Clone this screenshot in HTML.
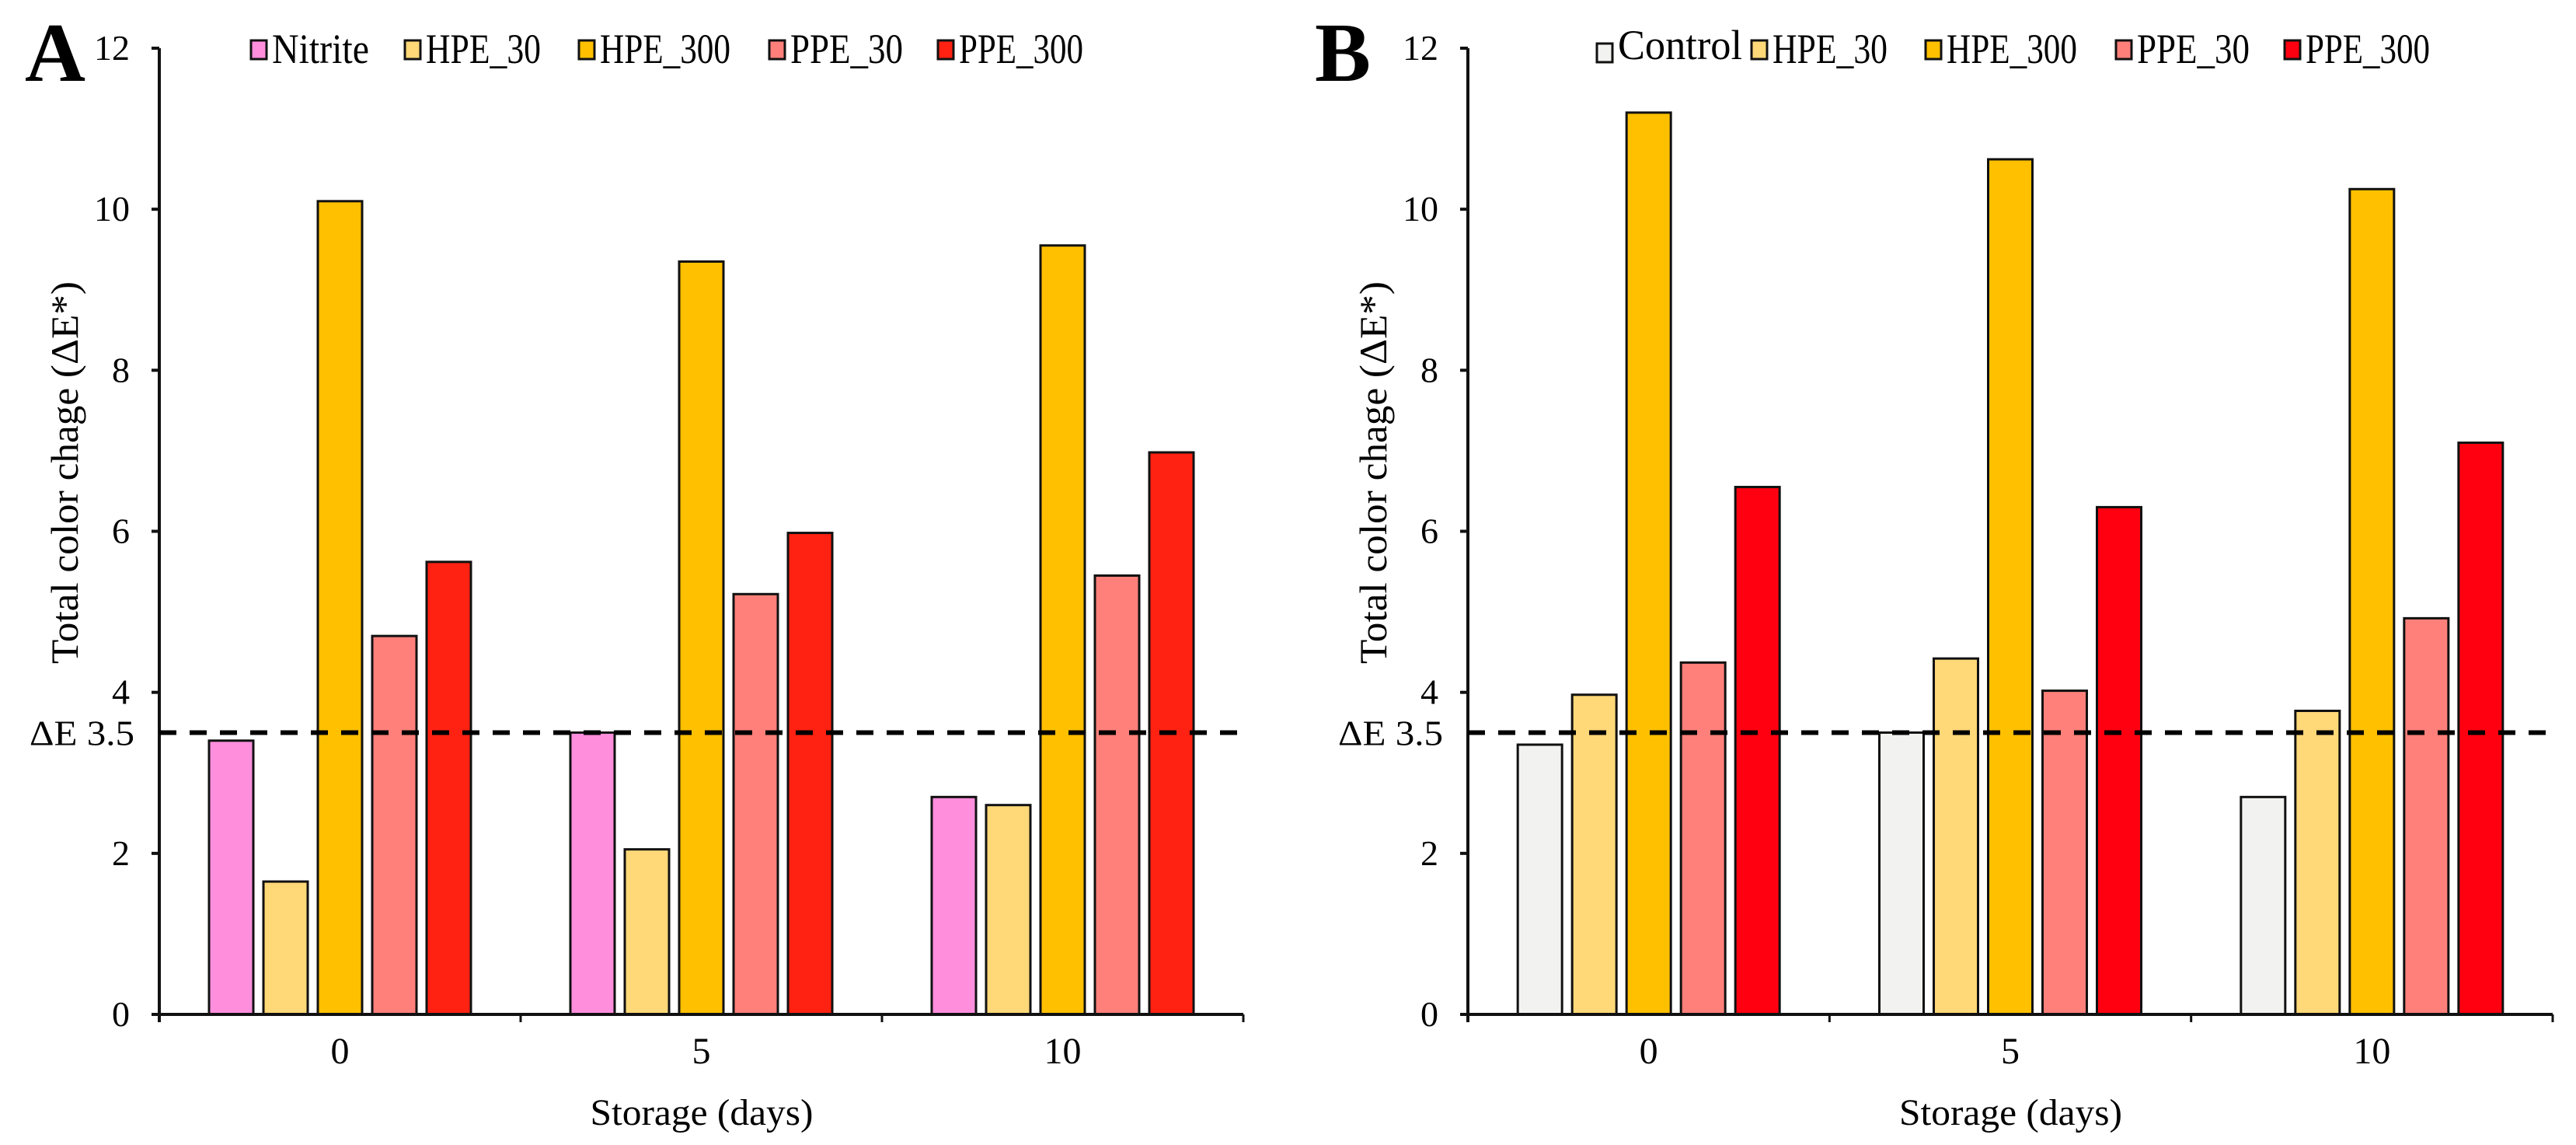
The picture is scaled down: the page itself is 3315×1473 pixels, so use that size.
<!DOCTYPE html>
<html><head><meta charset="utf-8"><style>
html,body{margin:0;padding:0;background:#fff;}
svg{display:block;font-family:"Liberation Serif",serif;}
</style></head><body>
<svg id="chart" width="3315" height="1473" viewBox="0 0 3315 1473" xmlns="http://www.w3.org/2000/svg"></svg>
<script>
const categories = ["0", "5", "10"];
const yTicks = [0, 2, 4, 6, 8, 10, 12];
const seriesNamesA = ["Nitrite", "HPE_30", "HPE_300", "PPE_30", "PPE_300"];
const seriesNamesB = ["Control", "HPE_30", "HPE_300", "PPE_30", "PPE_300"];
const nitriteA = [3.4, 3.5, 2.7];
const hpe30A = [1.65, 2.05, 2.6];
const hpe300A = [10.1, 9.35, 9.55];
const ppe30A = [4.7, 5.22, 5.45];
const ppe300A = [5.62, 5.98, 6.98];
const controlB = [3.35, 3.5, 2.7];
const hpe30B = [3.97, 4.42, 3.77];
const hpe300B = [11.2, 10.62, 10.25];
const ppe30B = [4.37, 4.02, 4.92];
const ppe300B = [6.55, 6.3, 7.1];
const threshold = 3.5;

const NS = "http://www.w3.org/2000/svg";
const svg = document.getElementById("chart");
function mk(tag, attrs, parent) {
  const e = document.createElementNS(NS, tag);
  for (const k in attrs) e.setAttribute(k, attrs[k]);
  (parent || svg).appendChild(e);
  return e;
}

function drawPanel(cfg) {
  const g = mk("g", {});
  
  
  const x0 = cfg.x0, x1 = cfg.x1, yBase = 1305, yTop = 62, yMax = 12;
  const yScale = v => yBase - v / yMax * (yBase - yTop);
  const catW = (x1 - x0) / categories.length;
  const barW = 57, step = 70;
  const groupW = step * 4 + barW;
  const xBar = (ci, si) => x0 + ci * catW + (catW - groupW) / 2 + si * step;

  const lt = mk("text", {x: cfg.letterX, y: 104, "font-size": 108, "font-weight": "bold"}, g);
  lt.textContent = cfg.letter;
  
  

  cfg.series.forEach((vals, si) => {
    vals.forEach((v, ci) => {
      const y = yScale(v);
      const r = mk("rect", {x: xBar(ci, si), y: y, width: barW, height: yBase - y, fill: cfg.colors[si], stroke: "#111", "stroke-width": 3}, g);
      
      
    });
  });

  const ya = mk("line", {x1: x0, y1: yTop, x2: x0, y2: yBase + 10, stroke: "#111", "stroke-width": 4}, g);
  
  
  yTicks.forEach(t => {
    const y = yScale(t);
    mk("line", {x1: x0 - 10, y1: y, x2: x0, y2: y, stroke: "#111", "stroke-width": 4}, g);
    const tx = mk("text", {x: x0 - 38, y: y + 15, "font-size": 46, "text-anchor": "end"}, g);
    tx.textContent = t;
    
    
  });
  const xa = mk("line", {x1: x0 - 10, y1: yBase, x2: x1, y2: yBase, stroke: "#111", "stroke-width": 4}, g);
  
  
  for (let i = 1; i <= categories.length; i++) {
    mk("line", {x1: x0 + i * catW, y1: yBase, x2: x0 + i * catW, y2: yBase + 10, stroke: "#111", "stroke-width": 3}, g);
  }
  categories.forEach((c, ci) => {
    const tx = mk("text", {x: x0 + (ci + 0.5) * catW, y: 1368, "font-size": 48, "text-anchor": "middle"}, g);
    tx.textContent = c;
    
    
  });
  const xt = mk("text", {x: x0 + 1.5 * catW - 143, y: 1447, "font-size": 48, textLength: 287, lengthAdjust: "spacingAndGlyphs"}, g);
  xt.textContent = "Storage (days)";
  
  
  const yt = mk("text", {x: -246, y: 0, "font-size": 50, textLength: 492, lengthAdjust: "spacingAndGlyphs", transform: "translate(" + (x0 - 105) + ",608) rotate(-90)"}, g);
  yt.textContent = "Total color chage (\u0394E*)";
  
  

  const ty = yScale(threshold);
  const dl = mk("line", {x1: x0, y1: ty, x2: x1 - 6, y2: ty, stroke: "#000", "stroke-width": 6, "stroke-dasharray": "22 17"}, g);
  
  
  const tl = mk("text", {x: x0 - 167, y: ty + 16, "font-size": 46, textLength: 135, lengthAdjust: "spacingAndGlyphs"}, g);
  tl.textContent = "\u0394E 3.5";
  
  

  cfg.names.forEach((n, si) => {
    const lx = cfg.legendX[si];
    const lg = mk("g", {}, g);
    
    
    mk("rect", {x: lx, y: 52 + (cfg.legendDy[si] || 0), width: 20, height: 24, fill: cfg.colors[si], stroke: "#111", "stroke-width": 3}, lg);
    const t = mk("text", {x: lx + 27, y: 81 + (cfg.legendDyText[si] || 0), "font-size": 54, textLength: cfg.legendW[si], lengthAdjust: "spacingAndGlyphs"}, lg);
    t.textContent = n;
  });
}

drawPanel({
  id: "a", letter: "A", letterX: 32, x0: 205, x1: 1600,
  series: [nitriteA, hpe30A, hpe300A, ppe30A, ppe300A],
  names: seriesNamesA,
  colors: ["#FF8EDD", "#FFD878", "#FFC000", "#FF807A", "#FF2212"],
  legendX: [323, 521, 745, 990, 1207], legendW: [125, 148, 168, 145, 160],
  legendDy: [], legendDyText: []
});
drawPanel({
  id: "b", letter: "B", letterX: 1692, x0: 1889, x1: 3285,
  series: [controlB, hpe30B, hpe300B, ppe30B, ppe300B],
  names: seriesNamesB,
  colors: ["#F2F2F0", "#FFD878", "#FFC000", "#FF807A", "#FF0010"],
  legendX: [2055, 2254, 2478, 2723, 2940], legendW: [160, 148, 168, 145, 160],
  legendDy: [4], legendDyText: [-5]
});
</script>
</body></html>
